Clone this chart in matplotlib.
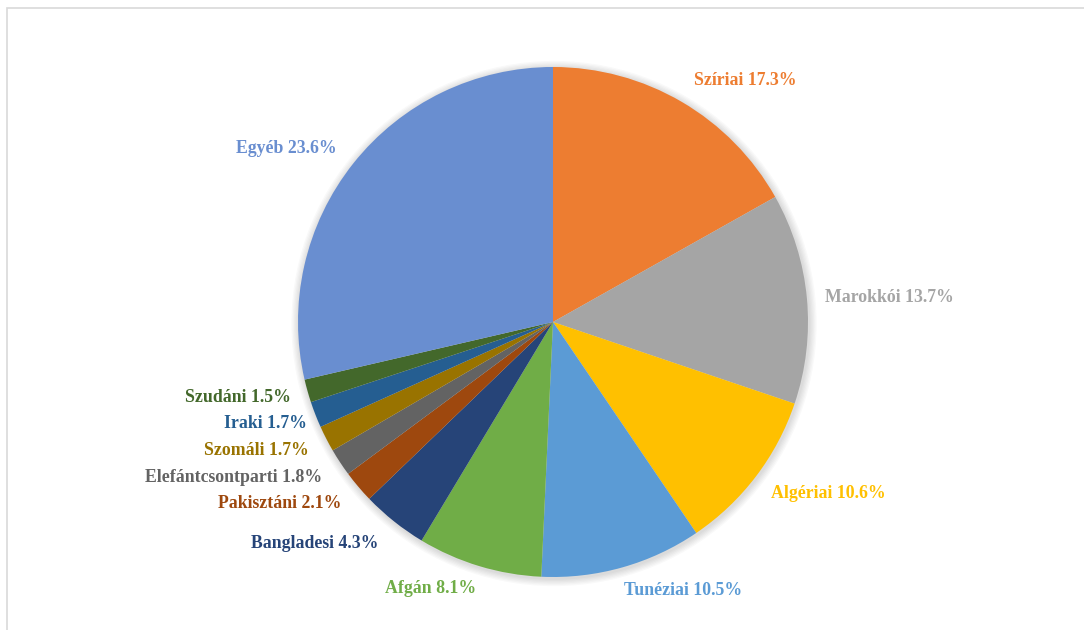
import matplotlib.pyplot as plt
from matplotlib.patches import Circle, Rectangle

# label text percentages (as printed on the chart)
groups = ["Szíriai", "Marokkói", "Algériai", "Tunéziai", "Afgán", "Bangladesi",
          "Pakisztáni", "Elefántcsontparti", "Szomáli", "Iraki", "Szudáni", "Egyéb"]
shares = [17.3, 13.7, 10.6, 10.5, 8.1, 4.3, 2.1, 1.8, 1.7, 1.7, 1.5, 23.6]
# slice sizes as drawn (the "Egyéb" slice is visibly larger than its label)
slice_sizes = [17.3, 13.7, 10.6, 10.5, 8.1, 4.3, 2.1, 1.8, 1.7, 1.7, 1.5, 29.4]

colors = ["#ED7D31", "#A5A5A5", "#FFC000", "#5B9BD5", "#70AD47", "#264478",
          "#9E480E", "#636363", "#997300", "#255E91", "#43682B", "#698ED0"]

# label anchor positions, in units of the pie radius
label_pos = [(0.753, 0.949), (1.320, 0.098), (1.080, -0.671), (0.510, -1.051),
             (-0.482, -1.047), (-0.933, -0.867), (-1.071, -0.710), (-1.253, -0.608),
             (-1.165, -0.502), (-1.129, -0.400), (-1.235, -0.298), (-1.047, 0.682)]

fig = plt.figure(figsize=(10.84, 6.30), dpi=100)
ax = fig.add_axes([0, 0, 1, 1])

# soft shadow behind the pie
for k in range(6):
    ax.add_patch(Circle((0.004, -0.006), 1.0 + 0.005 * (k + 1), color="black",
                        alpha=0.025, lw=0, zorder=0))

ax.pie(slice_sizes, colors=colors, startangle=90, counterclock=False,
       radius=1.0, wedgeprops=dict(linewidth=0, zorder=1))

for name, val, col, (x, y) in zip(groups, shares, colors, label_pos):
    ax.text(x, y, f"{name} {val}%", color=col, ha="center", va="center",
            fontsize=12.8, fontweight="bold", family="Liberation Serif")

ax.set_xlim(-553 / 255, (1084 - 553) / 255)
ax.set_ylim(-(630 - 322) / 255, 322 / 255)
ax.set_aspect("auto")
ax.axis("off")

# chart area border (only top and left edges fall inside the image)
fig.add_artist(Rectangle((7 / 1084, -0.1), 1.2, (630 - 8) / 630 + 0.1,
                         transform=fig.transFigure, fill=False,
                         edgecolor="#D9D9D9", linewidth=1.2))

fig.savefig("out.png", dpi=100, facecolor="white")
